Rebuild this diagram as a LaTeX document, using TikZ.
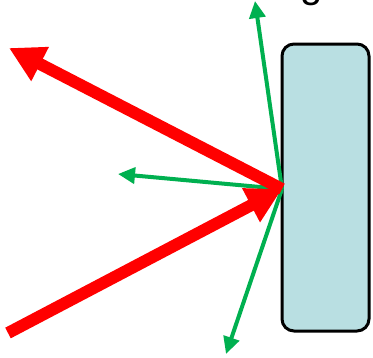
\documentclass[tikz,border=0pt]{standalone}
\usepackage{fontspec}
\setmainfont{Liberation Sans}
\usetikzlibrary{arrows.meta}
\definecolor{boxfill}{HTML}{B9DFE2}
\definecolor{rayred}{HTML}{FF0000}
\definecolor{raygreen}{HTML}{00B050}
\tikzset{
  mirrorbox/.style={draw=black, line width=3pt, fill=boxfill, rounded corners=12pt,
    minimum width=87pt, minimum height=287pt, inner sep=0pt},
  bigray/.style={draw=rayred, line width=12pt, -{Triangle[length=35pt,width=36pt]}},
  smallray/.style={draw=raygreen, line width=4pt, -{Triangle[length=17pt,width=16pt]}}
}
\begin{document}
\begin{tikzpicture}[x=1pt,y=-1pt]
\useasboundingbox (0,0) rectangle (373,357);
\clip (0,0) rectangle (373,357);
\node[anchor=base west, font=\fontsize{40}{48}\selectfont, inner sep=0pt] (lbl) at (300,-3) {g};
\node[mirrorbox] (mirror) at (325.5,187.5) {};
\coordinate (p) at (282,189);
\coordinate (inStart) at (8,333);
\coordinate (outEnd) at (9,48);
\coordinate (upEnd) at (255,1);
\coordinate (leftEnd) at (118,174);
\coordinate (downEnd) at (226,354);
\draw[smallray] (p) -- (upEnd);
\draw[smallray] (p) -- (leftEnd);
\draw[smallray] (p) -- (downEnd);
\draw[bigray] (p) -- (outEnd);
\draw[bigray] (inStart) -- (p);
\end{tikzpicture}
\end{document}
